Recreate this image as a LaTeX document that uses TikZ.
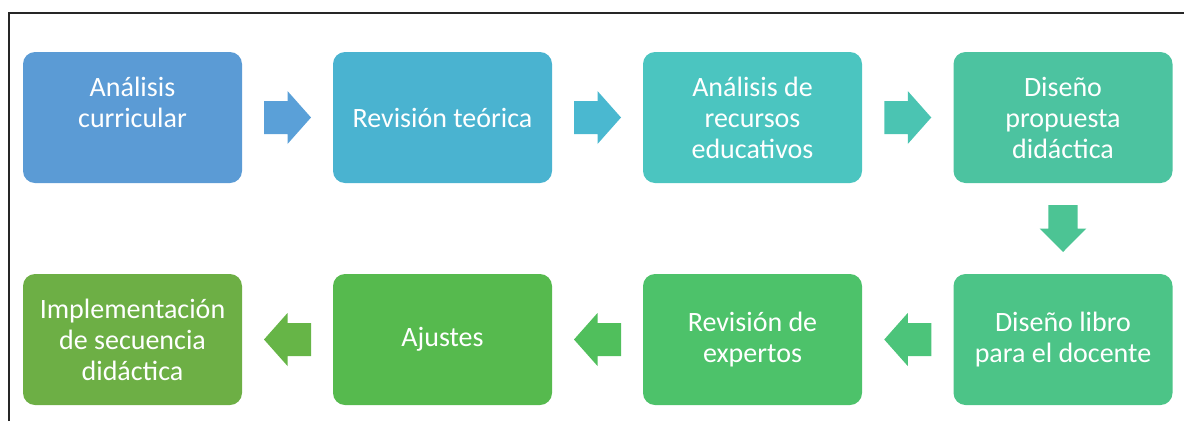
\documentclass[tikz,border=0pt]{standalone}
\usepackage{fontspec}
\setmainfont{Carlito}
\usetikzlibrary{calc}
\definecolor{c1}{HTML}{5B9BD5}
\definecolor{c2}{HTML}{4AB3D0}
\definecolor{c3}{HTML}{4BC5C0}
\definecolor{c4}{HTML}{4CC3A0}
\definecolor{c5}{HTML}{4CC487}
\definecolor{c6}{HTML}{4DC26A}
\definecolor{c7}{HTML}{56BA4E}
\definecolor{c8}{HTML}{6DAF45}
\definecolor{a1}{HTML}{5AA0D8}
\definecolor{a2}{HTML}{4AB8D0}
\definecolor{a3}{HTML}{4BC4B2}
\definecolor{a4}{HTML}{4CC494}
\definecolor{a5}{HTML}{4CC47A}
\definecolor{a6}{HTML}{50BF5C}
\definecolor{a7}{HTML}{66B547}
\tikzset{
  stepbox/.style={rounded corners=12pt, minimum width=219pt, minimum height=131pt,
    inner sep=0pt, text=white, align=center,
    font=\fontsize{28pt}{31pt}\selectfont},
  pics/barrow/.style={code={
    \fill[#1] (-23.5,-16.5) -- (0,-16.5) -- (0,-26.5) -- (23.5,0) -- (0,26.5) -- (0,16.5) -- (-23.5,16.5) -- cycle;}},
  frameline/.style={draw=black!85, line width=1.6pt}
}
\begin{document}
\begin{tikzpicture}[x=1pt,y=1pt]
\useasboundingbox (0,0) rectangle (1184,-421);
\coordinate (fa) at (9,-421);
\coordinate (fb) at (9,-13);
\coordinate (fc) at (1184,-13);
\draw[frameline] (fa) -- (fb) -- (fc);
% row 1
\node[stepbox, fill=c1] (b1) at (132.5,-117.5) {Análisis\\curricular\\\mbox{}};
\node[stepbox, fill=c2] (b2) at (442.5,-117.5) {Revisión teórica};
\node[stepbox, fill=c3] (b3) at (752.5,-117.5) {Análisis de\\recursos\\educativos};
\node[stepbox, fill=c4] (b4) at (1063,-117.5) {Diseño\\propuesta\\didáctica};
% row 2
\node[stepbox, fill=c5] (b5) at (1063,-339.5) {Diseño libro\\para el docente};
\node[stepbox, fill=c6] (b6) at (752.5,-339.5) {Revisión de\\expertos};
\node[stepbox, fill=c7] (b7) at (442.5,-339.5) {Ajustes};
\node[stepbox, fill=c8] (b8) at (132.5,-339.5) {Implementación\\de secuencia\\didáctica};
% arrows
\pic at ($(b1.east)!0.5!(b2.west)$) {barrow=a1};
\pic at ($(b2.east)!0.5!(b3.west)$) {barrow=a2};
\pic at ($(b3.east)!0.5!(b4.west)$) {barrow=a3};
\pic[rotate=-90, yscale=0.88] at ($(b4.south)!0.5!(b5.north)$) {barrow=a4};
\pic[rotate=180] at ($(b5.west)!0.5!(b6.east)$) {barrow=a5};
\pic[rotate=180] at ($(b6.west)!0.5!(b7.east)$) {barrow=a6};
\pic[rotate=180] at ($(b7.west)!0.5!(b8.east)$) {barrow=a7};
\end{tikzpicture}
\end{document}
